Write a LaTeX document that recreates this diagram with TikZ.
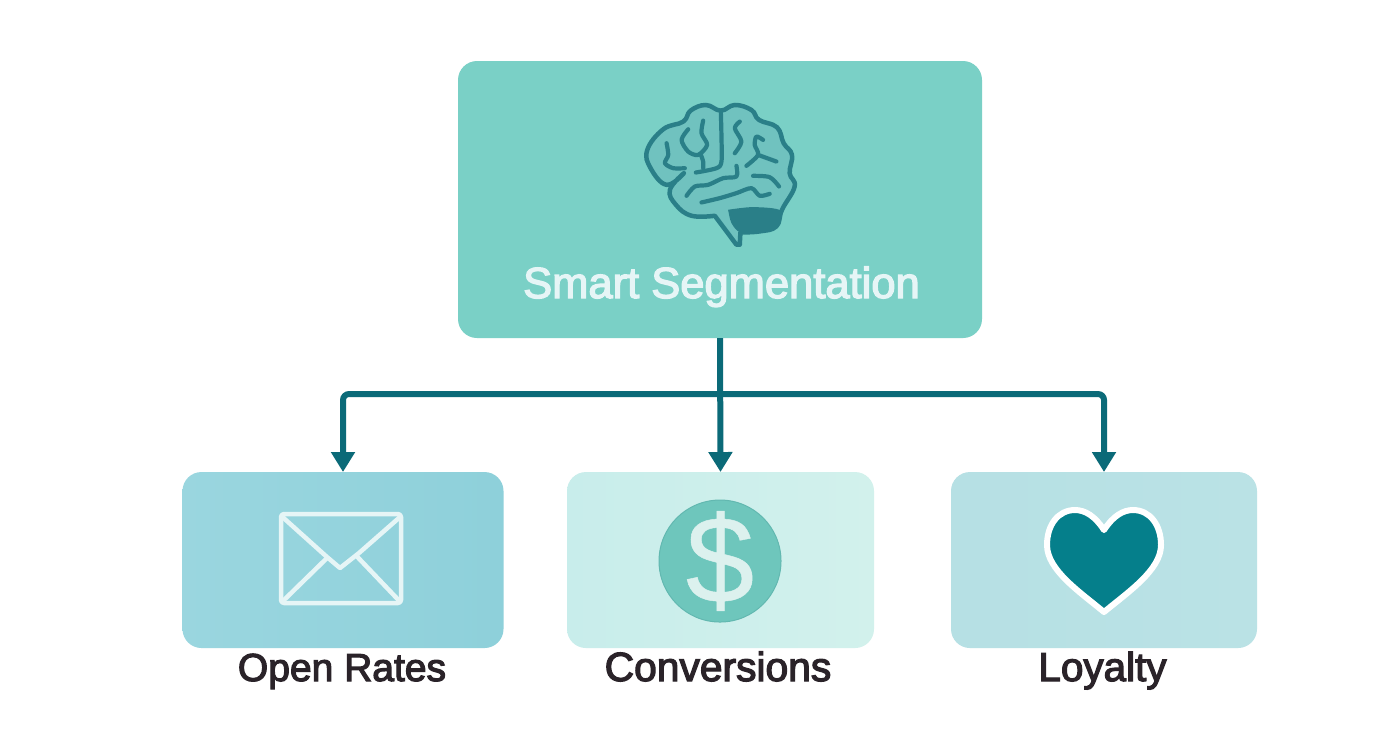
\documentclass[tikz,border=0pt]{standalone}
\usepackage{fontspec}
\usepackage{tikz}
\usepackage{xcolor}
\usetikzlibrary{arrows.meta}
\setmainfont{Liberation Sans}
\newfontfamily\labelfont[FakeBold=3]{Liberation Sans}
\newfontfamily\dollarfont[FakeBold=0.4]{Liberation Sans}

\definecolor{tealmain}{HTML}{7AD0C6}
\definecolor{tealline}{HTML}{0B6A78}
\definecolor{brainline}{HTML}{2A7F88}
\definecolor{brainfill}{HTML}{70C2BF}
\definecolor{paleline}{HTML}{E6F5F6}
\definecolor{inkdark}{HTML}{2A2329}
\definecolor{openleft}{HTML}{9AD6DF}
\definecolor{openright}{HTML}{8ED0DA}
\definecolor{convleft}{HTML}{C8EDEB}
\definecolor{convright}{HTML}{D2F1EC}
\definecolor{loyalleft}{HTML}{B6E0E4}
\definecolor{loyalright}{HTML}{BAE2E5}
\definecolor{coinfill}{HTML}{6EC6BC}
\definecolor{coinedge}{HTML}{62B8B0}
\definecolor{dollarpale}{HTML}{DCF1EE}
\definecolor{heartfill}{HTML}{057F8B}

\begin{document}
\begin{tikzpicture}[
            > = {Triangle[width=0.23cm,length=0.2cm]}, % arrow head style
            line width = 0.06cm, % line style
            card/.style = {rectangle,rounded corners=0.19cm,inner sep=0pt,outer sep=0pt,draw=none},
            caption/.style = {anchor=base,text=inkdark,font=\labelfont\fontsize{11.1}{13}\selectfont},
            groove/.style = {draw=brainline,line width=0.042cm,line cap=round,line join=round},
            envline/.style = {draw=paleline,line width=0.045cm,line cap=round,line join=round}
        ]
\useasboundingbox[fill=white] (0,0) rectangle (13.92,-7.52);

\node[card,minimum width=5.24cm,minimum height=2.77cm,fill=tealmain] (main) at (7.2,-1.995) {};
\node[card,minimum width=3.21cm,minimum height=1.76cm,left color=openleft,right color=openright] (open) at (3.43,-5.6) {};
\node[card,minimum width=3.07cm,minimum height=1.76cm,left color=convleft,right color=convright] (conv) at (7.205,-5.6) {};
\node[card,minimum width=3.06cm,minimum height=1.76cm,left color=loyalleft,right color=loyalright] (loyal) at (11.04,-5.6) {};

\node[text=paleline,anchor=base,font=\labelfont\fontsize{12.38}{15}\selectfont] (maintext) at (7.215,-2.98) {Smart Segmentation};
\node[caption] (opentext) at (3.42,-6.81) {Open Rates};
\node[caption,font=\labelfont\fontsize{11.6}{13}\selectfont] (convtext) at (7.18,-6.81) {Conversions};
\node[caption,font=\labelfont\fontsize{11.5}{13}\selectfont] (loyaltext) at (11.025,-6.81) {Loyalty};

% connectors
\coordinate (bus) at (7.2,-3.94);
\draw[tealline,rounded corners=0.06cm,->] (bus) -| (open.north);
\draw[tealline,rounded corners=0.06cm,->] (bus) -| (loyal.north);
\draw[tealline,->] (main.south) -- (conv.north);

% brain, in units of 1/3 px
\begin{scope}[shift={(6.2,-0.9)},xscale=0.003333,yscale=-0.003333]
\draw[groove,line width=0.045cm,fill=brainfill] (350,465) -- (285,378)
  -- plot[smooth,tension=.7] coordinates {(285,378) (215,378) (168,345) (150,300) (192,250)}
  -- plot[smooth,tension=.7] coordinates {(192,250) (140,285) (92,235) (82,180) (130,118) (190,95) (212,62) (258,45) (303,62) (345,45) (395,60) (418,90) (472,112) (492,160) (517,195) (510,250) (525,290) (487,360) (470,410) (420,425) (362,428)}
  -- (360,465) -- cycle;
\fill[brainline] plot[smooth,tension=.5] coordinates {(325,360) (400,352) (482,362) (470,410) (420,425) (362,428) (335,400) (325,360)};
\draw[groove] plot[smooth] coordinates {(140,160) (145,195) (135,220) (160,235) (195,235)};
\draw[groove] plot[smooth] coordinates {(205,118) (185,150) (205,185) (235,195) (262,165) (245,130) (250,92)};
\draw[groove] plot[smooth] coordinates {(242,192) (250,215) (250,235)};
\draw[groove] plot[smooth,tension=.5] coordinates {(303,62) (305,140) (305,215) (290,235) (228,248)};
\draw[groove] plot[smooth] coordinates {(360,95) (345,115) (365,155) (345,190)};
\draw[groove] plot[smooth] coordinates {(430,150) (410,140) (405,165) (415,195) (380,228)};
\draw[groove] (415,195) -- (470,215);
\draw[groove] plot[smooth] coordinates {(200,318) (225,290) (265,285) (310,265) (350,260) (350,228)};
\draw[groove] plot[smooth] coordinates {(400,258) (450,262) (478,290)};
\draw[groove] plot[smooth] coordinates {(245,338) (300,325) (350,310) (395,295) (420,318) (450,312)};
\end{scope}

% envelope
\draw[envline,rounded corners=0.03cm] (2.81,-5.14) rectangle (4.01,-6.03);
\draw[envline] (2.825,-5.17) -- (3.27,-5.57) -- (3.40,-5.68) -- (3.59,-5.53) -- (4.0,-5.17);
\draw[envline] (2.84,-6.0) -- (3.27,-5.58);
\draw[envline] (3.575,-5.57) -- (3.985,-6.0);

% coin
\node[circle,minimum size=1.22cm,inner sep=0pt,fill=coinfill,draw=coinedge,line width=0.01cm] (coin) at (7.2,-5.61) {};
\node[text=dollarpale,font=\dollarfont\fontsize{35}{38}\selectfont,inner sep=0pt] (dollar) at (coin.center) {\$};

% heart
\draw[draw=white,fill=heartfill,line width=0.06cm,line join=round]
  (11.04,-5.30) .. controls (10.95,-5.16) and (10.85,-5.10) .. (10.75,-5.10)
  .. controls (10.58,-5.10) and (10.47,-5.25) .. (10.47,-5.45)
  .. controls (10.47,-5.70) and (10.80,-5.92) .. (11.04,-6.12)
  .. controls (11.28,-5.92) and (11.61,-5.70) .. (11.61,-5.45)
  .. controls (11.61,-5.25) and (11.50,-5.10) .. (11.33,-5.10)
  .. controls (11.23,-5.10) and (11.13,-5.16) .. (11.04,-5.30) -- cycle;
\end{tikzpicture}
\end{document}
